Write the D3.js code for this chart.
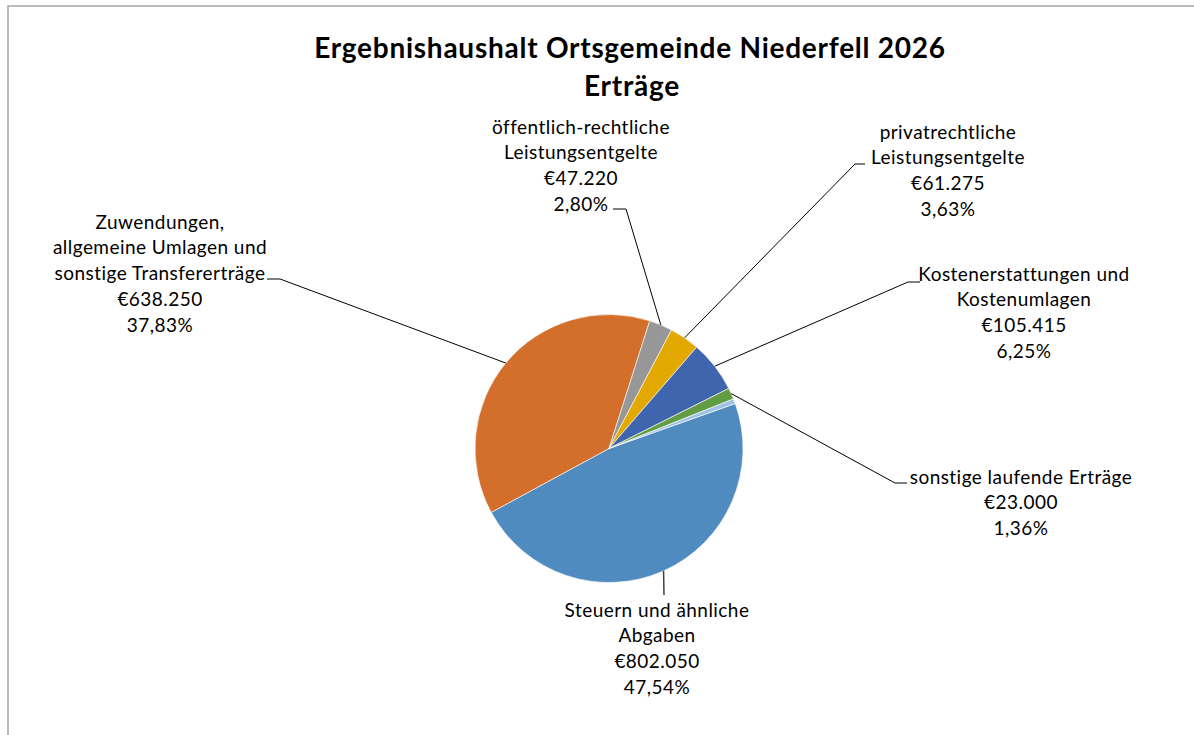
<!DOCTYPE html>
<html>
<head>
<meta charset="utf-8">
<script src="https://cdn.jsdelivr.net/npm/d3@7"></script>
<style>
  body { margin: 0; background: #fff; }
  svg { display: block; }
  text { font-family: Lato, "Open Sans", sans-serif; fill: #000; }
</style>
</head>
<body>
<svg width="1194" height="735"></svg>
<script>
// data
const categories = [
  ['Steuern und ähnliche', 'Abgaben'],
  ['Zuwendungen,', 'allgemeine Umlagen und', 'sonstige Transfererträge'],
  ['öffentlich-rechtliche', 'Leistungsentgelte'],
  ['privatrechtliche', 'Leistungsentgelte'],
  ['Kostenerstattungen und', 'Kostenumlagen'],
  ['sonstige laufende Erträge'],
  []  // small slice, no label in the chart
];
const values = [802050, 638250, 47220, 61275, 105415, 23000, 10000];
const colors = ['#4f8bbf', '#d46f2b', '#979797', '#e3a900', '#3e65ae', '#629c43', '#9dc3e6'];

// label placement: text centre x, first line y, leader bend point and horizontal tail end
const labelPos = [
  { x: 657, y: 610, bend: [664, 595], tail: null },
  { x: 160, y: 222, bend: [280, 279], tail: [267, 279] },
  { x: 581, y: 127, bend: [626, 209], tail: [613, 209] },
  { x: 948, y: 132, bend: [855, 164], tail: [865, 164] },
  { x: 1024, y: 274, bend: [908, 282], tail: [920, 282] },
  { x: 1021, y: 477, bend: [895, 483], tail: [907, 483] },
  null
];

const locale = d3.formatLocale({ decimal: ',', thousands: '.', grouping: [3], currency: ['€', ''] });
const fmtEuro = locale.format('$,');
const fmtPct = locale.format('.2%');

const svg = d3.select('svg');

// chart frame (runs off the right and bottom edges)
svg.append('rect')
  .attr('x', 8).attr('y', 6)
  .attr('width', 1300).attr('height', 800)
  .attr('fill', 'none')
  .attr('stroke', '#a6a6a6')
  .attr('stroke-width', 1.5);

svg.append('text')
  .attr('x', 630).attr('y', 58)
  .attr('text-anchor', 'middle')
  .style('font-size', '28px').style('font-weight', 'bold')
  .style('letter-spacing', '0.75px')
  .text('Ergebnishaushalt Ortsgemeinde Niederfell 2026');
svg.append('text')
  .attr('x', 632).attr('y', 96)
  .attr('text-anchor', 'middle')
  .style('font-size', '28px').style('font-weight', 'bold')
  .style('letter-spacing', '0.75px')
  .text('Erträge');

const cx = 609, cy = 448.5, radius = 134;
const total = d3.sum(values);
const startAngle = 70.4 * Math.PI / 180;

const pie = d3.pie()
  .sort(null)
  .startAngle(startAngle)
  .endAngle(startAngle + 2 * Math.PI);
const arcs = pie(values);

const arc = d3.arc().innerRadius(0).outerRadius(radius);
const edge = d3.arc().innerRadius(radius).outerRadius(radius);

const g = svg.append('g').attr('transform', 'translate(' + cx + ',' + cy + ')');

g.selectAll('path')
  .data(arcs)
  .enter().append('path')
  .attr('d', arc)
  .attr('fill', function (d, i) { return colors[i]; })
  .attr('stroke', '#fff')
  .attr('stroke-width', 0.6);

// leader lines
arcs.forEach(function (d, i) {
  const lp = labelPos[i];
  if (!lp) return;
  const p = edge.centroid(d);
  const pts = [[cx + p[0], cy + p[1]], lp.bend];
  if (lp.tail) pts.push(lp.tail);
  svg.append('path')
    .attr('d', d3.line()(pts))
    .attr('fill', 'none')
    .attr('stroke', i === 0 ? '#404040' : '#000')
    .attr('stroke-width', i === 0 ? 1.5 : 1);
});

// labels
const lineH = 25.8;
arcs.forEach(function (d, i) {
  const lp = labelPos[i];
  if (!lp) return;
  const lines = categories[i].concat([fmtEuro(values[i]), fmtPct(values[i] / total)]);
  const t = svg.append('text')
    .attr('text-anchor', 'middle')
    .style('font-size', '19px')
    .style('letter-spacing', '0.45px');
  lines.forEach(function (s, k) {
    t.append('tspan')
      .attr('x', lp.x)
      .attr('y', lp.y + k * lineH)
      .attr('dy', '0.35em')
      .text(s);
  });
});
</script>
</body>
</html>
